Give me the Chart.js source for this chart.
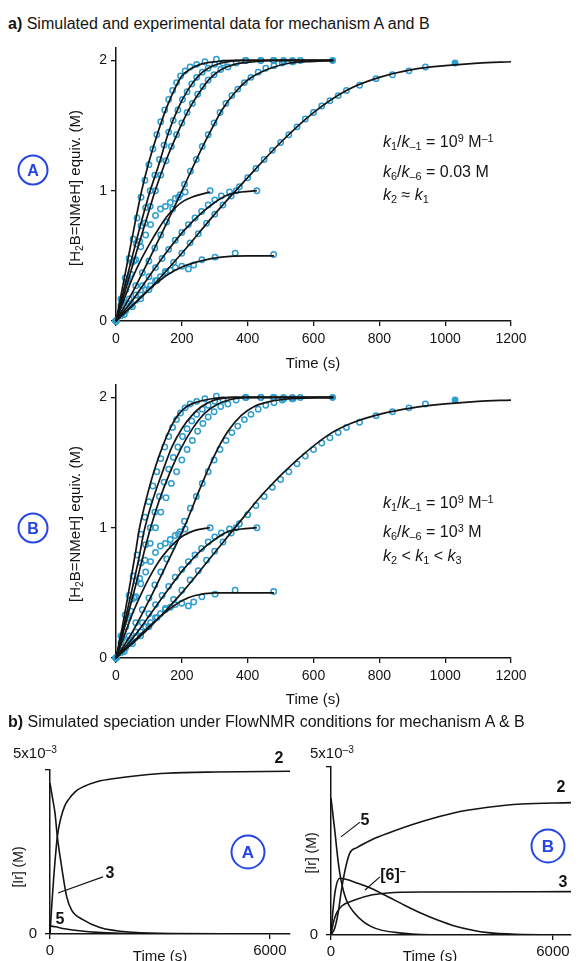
<!DOCTYPE html>
<html>
<head>
<meta charset="utf-8">
<script src="https://cdn.jsdelivr.net/npm/chart.js@4.4.1/dist/chart.umd.min.js"></script>
<style>
  body { margin:0; width:578px; height:961px; background:#fff; position:relative; overflow:hidden;
         font-family:'Liberation Sans', Arial, sans-serif; color:#141414; }
  canvas { position:absolute; }
  .lbl { position:absolute; white-space:nowrap; line-height:1; transform:translate(-50%,-50%); }
  .left { transform:translateY(-50%); }
  .ytitle { transform:translate(-50%,-50%) rotate(-90deg); }
  .bold { font-weight:bold; }
  sub, sup { font-size:0.68em; line-height:0; position:relative; vertical-align:baseline; }
  sub { top:0.3em; }
  sup { top:-0.5em; }
  .tag { position:absolute; box-sizing:border-box; border:2px solid #2444e6; border-radius:50%;
         color:#2444e6; font-weight:bold; display:flex; align-items:center; justify-content:center;
         transform:translate(-50%,-50%); }
</style>
</head>
<body>

<canvas id="kinA" width="560" height="340" style="left:0;top:35px"></canvas>
<canvas id="kinB" width="560" height="340" style="left:0;top:372px"></canvas>
<canvas id="specA" width="300" height="221" style="left:0;top:740px"></canvas>
<canvas id="specB" width="297" height="221" style="left:281px;top:740px"></canvas>

<div class="lbl left" style="left:8px;top:24px;font-size:16px"><b>a)</b> Simulated and experimental data for mechanism A and B</div>

<!-- panel A (top) -->
<div class="lbl ytitle" style="left:74px;top:188px;font-size:15px">[H<sub>2</sub>B=NMeH] equiv. (M)</div>
<div class="lbl" style="left:313px;top:362px;font-size:15px">Time (s)</div>
<div class="tag" style="left:33px;top:170px;width:31px;height:31px;font-size:16px">A</div>
<div class="lbl left" style="left:383px;top:142px;font-size:16px"><i>k</i><sub>1</sub>/<i>k</i><sub>–1</sub> = 10<sup>9</sup> M<sup>–1</sup></div>
<div class="lbl left" style="left:383px;top:172px;font-size:16px"><i>k</i><sub>6</sub>/<i>k</i><sub>–6</sub> = 0.03 M</div>
<div class="lbl left" style="left:383px;top:195px;font-size:16px"><i>k</i><sub>2</sub> ≈ <i>k</i><sub>1</sub></div>

<!-- panel B (top) -->
<div class="lbl ytitle" style="left:74px;top:524px;font-size:15px">[H<sub>2</sub>B=NMeH] equiv. (M)</div>
<div class="lbl" style="left:313px;top:698px;font-size:15px">Time (s)</div>
<div class="tag" style="left:33px;top:528px;width:31px;height:31px;font-size:16px">B</div>
<div class="lbl left" style="left:383px;top:503px;font-size:16px"><i>k</i><sub>1</sub>/<i>k</i><sub>–1</sub> = 10<sup>9</sup> M<sup>–1</sup></div>
<div class="lbl left" style="left:383px;top:532px;font-size:16px"><i>k</i><sub>6</sub>/<i>k</i><sub>–6</sub> = 10<sup>3</sup> M</div>
<div class="lbl left" style="left:383px;top:556px;font-size:16px"><i>k</i><sub>2</sub> &lt; <i>k</i><sub>1</sub> &lt; <i>k</i><sub>3</sub></div>

<div class="lbl left" style="left:8px;top:722px;font-size:16px"><b>b)</b> Simulated speciation under FlowNMR conditions for mechanism A &amp; B</div>

<!-- speciation A -->
<div class="lbl left" style="left:13px;top:752px;font-size:15px">5x10<sup>–3</sup></div>
<div class="lbl ytitle" style="left:18px;top:867px;font-size:14px">[Ir] (M)</div>
<div class="lbl" style="left:160px;top:955px;font-size:15px">Time (s)</div>
<div class="lbl bold" style="left:279px;top:758px;font-size:16px">2</div>
<div class="lbl bold" style="left:110px;top:873px;font-size:16px">3</div>
<div class="lbl bold" style="left:60px;top:919px;font-size:16px">5</div>
<div class="tag" style="left:248px;top:852px;width:35px;height:35px;font-size:17px">A</div>

<!-- speciation B -->
<div class="lbl left" style="left:310px;top:752px;font-size:15px">5x10<sup>–3</sup></div>
<div class="lbl ytitle" style="left:311px;top:853px;font-size:14px">[Ir] (M)</div>
<div class="lbl" style="left:430px;top:955px;font-size:15px">Time (s)</div>
<div class="lbl bold" style="left:561px;top:787px;font-size:16px">2</div>
<div class="lbl bold" style="left:365px;top:820px;font-size:16px">5</div>
<div class="lbl bold" style="left:393px;top:875px;font-size:16px">[6]<sup>–</sup></div>
<div class="lbl bold" style="left:563px;top:882px;font-size:16px">3</div>
<div class="tag" style="left:548px;top:846px;width:35px;height:35px;font-size:17px">B</div>

<script>
// experimental runs, [time s, equiv M]
const run1 = [[0,0],[15,0.17],[28,0.33],[40,0.48],[52,0.63],[64,0.79],[76,0.95],[88,1.08],[100,1.2],[112,1.32],[124,1.43],[136,1.53],[148,1.62],[160,1.7],[172,1.77],[184,1.83],[196,1.88],[210,1.92],[225,1.95],[245,1.97],[270,1.99],[305,2.01],[395,2.0],[440,2.0],[480,2.0],[510,1.99],[538,1.99],[658,2.0]];
const run2 = [[0,0],[18,0.16],[33,0.3],[48,0.45],[62,0.59],[76,0.73],[90,0.87],[104,1.0],[118,1.12],[132,1.24],[146,1.35],[160,1.45],[174,1.54],[188,1.62],[202,1.7],[216,1.76],[230,1.82],[245,1.87],[262,1.91],[280,1.94],[300,1.97],[325,1.98],[440,2.0],[509,2.0]];
const run3 = [[0,0],[20,0.15],[38,0.31],[55,0.46],[72,0.61],[88,0.75],[104,0.88],[120,1.0],[136,1.12],[152,1.23],[168,1.34],[184,1.43],[200,1.52],[216,1.6],[232,1.67],[248,1.74],[264,1.8],[280,1.85],[298,1.89],[318,1.93],[340,1.95],[365,1.98],[393,2.0],[478,2.0],[536,2.0]];
const run4 = [[0,0],[20,0.08],[40,0.17],[60,0.27],[80,0.37],[100,0.46],[118,0.56],[136,0.66],[154,0.76],[172,0.86],[190,0.95],[208,1.05],[226,1.15],[244,1.24],[262,1.34],[280,1.43],[298,1.52],[316,1.6],[334,1.67],[352,1.73],[370,1.78],[390,1.83],[410,1.87],[432,1.91],[455,1.94],[480,1.96],[505,1.98],[535,1.99],[560,2.0]];
const run5 = [[0,0],[25,0.05],[50,0.11],[75,0.17],[100,0.24],[125,0.31],[150,0.38],[175,0.45],[200,0.52],[225,0.6],[250,0.67],[275,0.75],[300,0.82],[325,0.89],[350,0.96],[375,1.03],[400,1.1],[425,1.17],[450,1.24],[475,1.31],[500,1.37],[525,1.43],[550,1.49],[575,1.55],[600,1.6],[625,1.65],[650,1.69],[675,1.73],[700,1.77],[740,1.81],[790,1.86],[840,1.89],[890,1.92],[940,1.95],[1030,1.98]];
const run6 = [[0,0],[15,0.12],[30,0.24],[45,0.36],[60,0.47],[75,0.57],[90,0.66],[105,0.74],[120,0.81],[135,0.86],[150,0.88],[165,0.91],[180,0.94],[195,0.97],[210,0.99],[286,1.0]];
const run7 = [[0,0],[20,0.06],[40,0.13],[60,0.2],[80,0.27],[100,0.34],[120,0.41],[140,0.48],[160,0.55],[180,0.62],[200,0.68],[220,0.74],[240,0.79],[260,0.84],[280,0.89],[300,0.93],[320,0.96],[345,0.99],[365,1.0],[428,1.0]];
const run8 = [[0,0],[15,0.04],[30,0.08],[45,0.12],[60,0.16],[75,0.2],[90,0.24],[105,0.27],[120,0.31],[135,0.34],[150,0.37],[165,0.39],[180,0.41],[200,0.42],[220,0.4],[236,0.43],[261,0.47],[301,0.49],[362,0.52],[479,0.51]];
const runs = [run1, run2, run3, run4, run5, run6, run7, run8];

// simulated curves, mechanism A
const simA1 = [[0,0],[20,0.26],[40,0.52],[60,0.78],[78,1.0],[100,1.22],[125,1.43],[154,1.64],[180,1.79],[200,1.88],[230,1.94],[256,1.97],[300,1.99],[360,2.0],[660,2.0]];
const simA2 = [[0,0],[25,0.25],[50,0.5],[78,0.77],[104,1.0],[130,1.2],[160,1.45],[190,1.64],[220,1.78],[250,1.88],[280,1.94],[320,1.98],[380,2.0],[660,2.0]];
const simA3 = [[0,0],[30,0.25],[60,0.51],[90,0.76],[119,1.0],[150,1.22],[190,1.46],[225,1.64],[255,1.76],[285,1.86],[320,1.93],[360,1.97],[420,1.99],[480,2.0],[660,2.0]];
const simA4 = [[0,0],[50,0.22],[100,0.47],[150,0.73],[195,0.97],[250,1.27],[290,1.47],[322,1.62],[360,1.75],[400,1.85],[440,1.91],[480,1.95],[530,1.98],[580,1.99],[660,2.0]];
const simA5 = [[0,0],[100,0.24],[200,0.52],[300,0.82],[400,1.1],[500,1.37],[600,1.6],[700,1.77],[800,1.87],[900,1.93],[1000,1.96],[1100,1.98],[1200,1.99]];
const simA6 = [[0,0],[25,0.17],[50,0.33],[78,0.48],[104,0.6],[130,0.71],[154,0.8],[180,0.87],[205,0.92],[230,0.95],[255,0.97],[286,0.99]];
const simA7 = [[0,0],[50,0.16],[100,0.34],[154,0.53],[205,0.69],[260,0.83],[300,0.91],[332,0.96],[380,0.99],[428,1.0]];
const simA8 = [[0,0],[50,0.12],[100,0.24],[154,0.35],[205,0.42],[256,0.46],[320,0.49],[400,0.5],[480,0.5]];

// simulated curves, mechanism B
const simB1 = [[0,0],[20,0.25],[40,0.53],[60,0.82],[70,0.98],[90,1.2],[115,1.43],[144,1.64],[170,1.79],[190,1.87],[215,1.93],[240,1.96],[290,1.99],[360,2.0],[660,2.0]];
const simB2 = [[0,0],[25,0.26],[50,0.54],[70,0.77],[85,0.97],[110,1.2],[140,1.42],[170,1.62],[200,1.76],[230,1.86],[260,1.93],[300,1.98],[360,2.0],[660,2.0]];
const simB3 = [[0,0],[30,0.27],[60,0.56],[85,0.81],[104,0.99],[130,1.2],[165,1.43],[200,1.62],[235,1.77],[270,1.88],[310,1.95],[360,1.99],[420,2.0],[660,2.0]];
const simB4 = [[0,0],[50,0.2],[100,0.44],[150,0.7],[210,1.02],[255,1.3],[300,1.56],[340,1.74],[380,1.86],[420,1.93],[470,1.97],[530,1.99],[660,2.0]];
const simB5 = [[0,0],[100,0.23],[200,0.5],[300,0.81],[368,1.02],[450,1.27],[550,1.52],[650,1.72],[713,1.8],[800,1.87],[900,1.92],[1000,1.95],[1100,1.97],[1200,1.98]];
const simB6 = [[0,0],[25,0.17],[50,0.34],[78,0.5],[104,0.63],[130,0.74],[154,0.82],[180,0.89],[205,0.94],[240,0.98],[286,1.0]];
const simB7 = [[0,0],[50,0.15],[100,0.32],[154,0.51],[205,0.68],[260,0.83],[300,0.91],[340,0.97],[380,0.99],[428,1.0]];
const simB8 = [[0,0],[50,0.12],[100,0.24],[154,0.36],[200,0.44],[240,0.48],[300,0.5],[400,0.5],[480,0.5]];

// speciation, [time s, [Ir] in 1e-3 M]
const specA2 = [[0,0],[50,0.9],[100,1.7],[200,2.97],[300,3.55],[400,3.9],[500,4.09],[700,4.35],[910,4.49],[1300,4.65],[1820,4.75],[2500,4.84],[3180,4.9],[4500,4.94],[6550,4.96]];
const specA3 = [[0,4.6],[60,4.2],[136,3.69],[200,2.97],[318,2.05],[455,1.14],[590,0.73],[910,0.43],[1360,0.2],[2270,0.05],[3500,0.01],[6550,0]];
const specA5 = [[0,0.25],[150,0.22],[400,0.16],[800,0.1],[1300,0.05],[2000,0.02],[3000,0],[6550,0]];

const specB2 = [[0,0],[100,0.2],[200,0.7],[270,1.25],[380,1.93],[505,2.43],[700,2.6],[1090,2.83],[1540,3.03],[2440,3.37],[3343,3.64],[4244,3.8],[5145,3.9],[6490,3.94]];
const specB3 = [[0,0],[60,0.35],[150,0.65],[300,0.87],[640,1.04],[1090,1.19],[1540,1.25],[2500,1.28],[6490,1.29]];
const specB5 = [[0,4.07],[100,3.13],[189,2.23],[270,1.64],[415,1.04],[640,0.65],[1090,0.25],[1990,0.05],[3000,0],[6490,0]];
const specB6 = [[0,0],[50,0.7],[120,1.35],[235,1.69],[400,1.66],[700,1.55],[1080,1.39],[1540,1.14],[2000,0.88],[2440,0.65],[2900,0.44],[3343,0.27],[3800,0.15],[4244,0.07],[5000,0.02],[6490,0]];

// leader lines from the curve labels, in data units
const leadersA = [[[218,1.25],[1445,1.74]]];
const leadersB = [[[270,2.92],[784,3.36]], [[919,1.34],[1324,1.73]]];

const ink = '#141414';
const expBlue = '#2e9dd0';
Chart.defaults.font.family = "'Liberation Sans', Arial, sans-serif";
Chart.defaults.color = ink;

const pts = arr => arr.map(p => ({ x: p[0], y: p[1] }));
const plain = v => String(v);

function axisStyle(extra) {
  return Object.assign({
    type: 'linear',
    grid: { drawOnChartArea: false, drawTicks: true, tickLength: 5, color: ink, lineWidth: 1.3 },
    border: { display: true, color: ink, width: 1.5 },
  }, extra);
}

const leaderPlugin = {
  id: 'leaders',
  afterDatasetsDraw(chart, args, opts) {
    const { ctx, scales: { x, y } } = chart;
    ctx.save();
    ctx.strokeStyle = ink;
    ctx.lineWidth = 1.2;
    (opts.lines || []).forEach(([a, b]) => {
      ctx.beginPath();
      ctx.moveTo(x.getPixelForValue(a[0]), y.getPixelForValue(a[1]));
      ctx.lineTo(x.getPixelForValue(b[0]), y.getPixelForValue(b[1]));
      ctx.stroke();
    });
    ctx.restore();
  }
};

// last reading of the long runs is drawn as a filled dot
function endFill(c) {
  const d = c.dataset.data;
  return (c.dataIndex === d.length - 1 && d[c.dataIndex].x > 600) ? expBlue : 'rgba(255,255,255,0)';
}

function kineticsChart(id, sims) {
  const datasets = [];
  sims.forEach(s => datasets.push({
    data: pts(s), showLine: true, borderColor: ink, borderWidth: 1.7,
    pointRadius: 0, cubicInterpolationMode: 'monotone', order: 0
  }));
  runs.forEach(r => datasets.push({
    data: pts(r), showLine: false, pointRadius: 2.7, pointBorderWidth: 1.5,
    pointBorderColor: expBlue, pointBackgroundColor: endFill, order: 1
  }));
  new Chart(document.getElementById(id), {
    type: 'scatter',
    data: { datasets },
    options: {
      responsive: false, animation: false, clip: false,
      layout: { padding: { top: 11, right: 49, left: 0, bottom: 0 } },
      plugins: { legend: { display: false }, tooltip: { enabled: false } },
      scales: {
        x: axisStyle({
          min: 0, max: 1200,
          ticks: { stepSize: 200, padding: 5, font: { size: 14 }, maxRotation: 0, callback: plain },
          afterFit: s => { s.height = 54; }
        }),
        y: axisStyle({
          min: 0, max: 2.1,
          ticks: { stepSize: 1, includeBounds: false, padding: 4, font: { size: 14 }, callback: plain },
          afterFit: s => { s.width = 116; }
        })
      }
    }
  });
}

function speciationChart(id, curves, xMax, pad, yWidth, xHeight, leaders) {
  new Chart(document.getElementById(id), {
    type: 'scatter',
    data: {
      datasets: curves.map(c => ({
        data: pts(c), showLine: true, borderColor: ink, borderWidth: 1.6,
        pointRadius: 0, cubicInterpolationMode: 'monotone'
      }))
    },
    options: {
      responsive: false, animation: false,
      layout: { padding: pad },
      plugins: { legend: { display: false }, tooltip: { enabled: false }, leaders: { lines: leaders } },
      scales: {
        x: axisStyle({
          min: 0, max: xMax,
          afterBuildTicks: s => { s.ticks = [{ value: 0 }, { value: 6000 }]; },
          ticks: { padding: 3, font: { size: 15 }, maxRotation: 0, callback: plain },
          afterFit: s => { s.height = xHeight; }
        }),
        y: axisStyle({
          min: 0, max: 5,
          afterBuildTicks: s => { s.ticks = [{ value: 0 }, { value: 5 }]; },
          ticks: { padding: 8, font: { size: 15 }, callback: v => v === 0 ? '0' : '' },
          afterFit: s => { s.width = yWidth; }
        })
      }
    },
    plugins: [leaderPlugin]
  });
}

kineticsChart('kinA', [simA1, simA2, simA3, simA4, simA5, simA6, simA7, simA8]);
kineticsChart('kinB', [simB1, simB2, simB3, simB4, simB5, simB6, simB7, simB8]);
speciationChart('specA', [specA2, specA3, specA5], 6550, { top: 30, right: 10, left: 0, bottom: 0 }, 50, 27, leadersA);
speciationChart('specB', [specB2, specB3, specB5, specB6], 6490, { top: 27, right: 7, left: 0, bottom: 0 }, 50, 26, leadersB);
</script>
</body>
</html>
